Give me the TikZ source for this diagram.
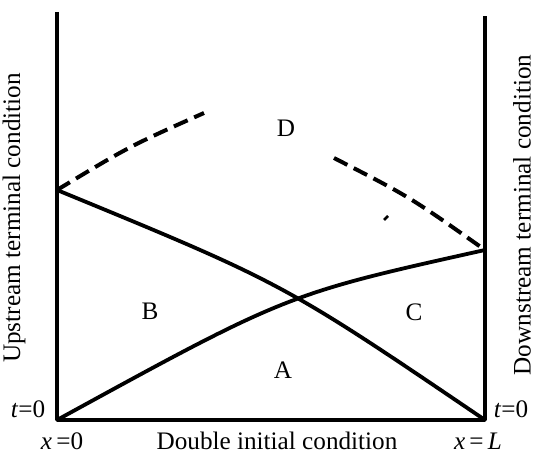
\documentclass[tikz,border=0pt]{standalone}
\usepackage{fontspec}
\setmainfont{Liberation Serif}
\usetikzlibrary{calc}
\begin{document}
\begin{tikzpicture}[x=0.5pt, y=-0.5pt, line width=1.9pt, line join=round,
    font=\fontsize{12.6}{15}\selectfont,
    termline/.style={line width=2pt, dash pattern=on 7.5pt off 3.6pt}]
    \useasboundingbox (0,0) rectangle (536,453);
    % frame
    \coordinate (Ltop) at (57,12);
    \coordinate (O) at (57,420);
    \coordinate (L) at (485,420);
    \coordinate (Rtop) at (485,16);
    \coordinate (up) at (57,190);
    \coordinate (dn) at (485,250);
    \draw (Ltop)--(O)--(L)--(Rtop);
    % characteristics
    \draw (up) .. controls (283,283) .. (L);
    \draw (O) .. controls (287,294) .. (dn);
    % terminal
    \coordinate (d1) at (204,113);
    \coordinate (d2) at (334,158);
    \draw[termline] (up) .. controls (130,146) .. (d1);
    \draw[termline] (d2) .. controls (410,197) .. (dn);
    \coordinate (s1) at (384,220);
    \coordinate (s2) at (388,216);
    \draw[line width=1.4pt] (s1)--(s2);
    % regions
    \node (labA) at (283,370) {A};
    \node (labB) at (150,311) {B};
    \node (labC) at (414,312) {C};
    \node (labD) at (286,128) {D};
    % texts
    \node[rotate=90] (ups) at (14,218) {Upstream terminal condition};
    \node[rotate=90] (dns) at (522,215) {Downstream terminal condition};
    \node (t0l) at (28,409) {\textit{t}=0};
    \node (t0r) at (511,409) {\textit{t}=0};
    \node (x0) at (62,441) {\textit{x}\,=0};
    \node (xL) at (478,441) {\textit{x}\,=\,\textit{L}};
    \node (dbl) at (277,441) {Double initial condition};
\end{tikzpicture}
\end{document}
